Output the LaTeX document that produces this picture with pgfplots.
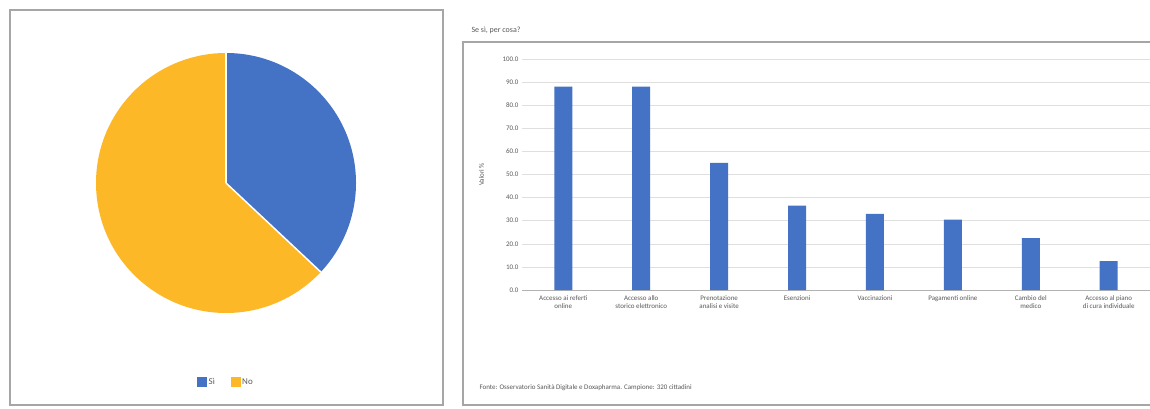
\documentclass[border=0pt]{standalone}
\usepackage{pgfplots}
\pgfplotsset{compat=1.18}
\usepackage{pgfplotstable}
\usepackage{fontspec}
\setmainfont{Carlito}
\definecolor{xblue}{HTML}{4472C4}
\definecolor{xgold}{HTML}{FDB827}
\definecolor{boxgray}{HTML}{A6A6A6}
\definecolor{txtgray}{HTML}{595959}

\pgfplotstableread{
cat val
0 88.0
1 88.0
2 55.0
3 36.5
4 33.0
5 30.5
6 22.5
7 12.5
}\bardata

\pgfplotstableread{
label val
Si 37
No 63
}\piedata

\begin{document}
\begin{tikzpicture}[x=1bp,y=1bp]
\useasboundingbox (0,0) rectangle (1150,408);
\fill[white] (0,0) rectangle (1150,408);
% panel frames
\draw[boxgray,line width=1.2bp] (10,3) rectangle (443,398);
\draw[boxgray,line width=1.2bp] (463,3) rectangle (1160,366);

% ---------- pie ----------
\pgfplotstablegetelem{0}{val}\of\piedata \edef\vsi{\pgfplotsretval}
\begin{axis}[
  at={(226bp,225bp)}, anchor=center,
  scale only axis, width=266bp, height=266bp,
  xmin=-1.023, xmax=1.023, ymin=-1.023, ymax=1.023,
  hide axis, clip=false,
  legend style={at={(0.5,-0.248)}, anchor=center, draw=none, fill=none,
    font=\fontsize{9}{10}\selectfont\color{txtgray}, legend columns=2,
    /tikz/every even column/.append style={column sep=14bp}},
  legend image code/.code={\fill[#1] (0bp,-4bp) rectangle (9bp,5bp);},
]
\pgfmathsetmacro{\endang}{90-3.6*\vsi}
\fill[xgold] (axis cs:0,0) -- ++(\endang:130bp) arc[start angle=\endang, end angle=-270, radius=130bp] -- cycle;
\fill[xblue] (axis cs:0,0) -- ++(90:130bp) arc[start angle=90, end angle=\endang, radius=130bp] -- cycle;
\draw[white,line width=1.5bp] (axis cs:0,0) -- ++(90:130bp);
\draw[white,line width=1.5bp] (axis cs:0,0) -- ++(\endang:130bp);
\addlegendimage{xblue, fill=xblue}
\addlegendentry{Sì}
\addlegendimage{xgold, fill=xgold}
\addlegendentry{No}
\end{axis}

% ---------- bar chart ----------
\node[anchor=west, font=\fontsize{8}{9}\selectfont, text=txtgray] at (468,378) {Se sì, per cosa?};
\node[anchor=west, font=\fontsize{7}{8}\selectfont, text=txtgray] at (476,20) {Fonte: Osservatorio Sanità Digitale e Doxapharma. Campione: 320 cittadini};
\begin{axis}[
  at={(522bp,118bp)}, anchor=south west,
  scale only axis, width=628bp, height=231bp,
  xmin=-0.53, xmax=7.53, ymin=0, ymax=100,
  ytick={0,10,...,100},
  yticklabel style={/pgf/number format/.cd, fixed, fixed zerofill, precision=1, assume math mode=true},
  ticklabel style={font=\fontsize{7}{8}\selectfont, text=txtgray},
  xtick={0,...,7},
  xticklabels={{Accesso ai referti\\online},{Accesso allo\\storico elettronico},{Prenotazione\\analisi e visite},{Esenzioni},{Vaccinazioni},{Pagamenti online},{Cambio del\\medico},{Accesso al piano\\di cura individuale}},
  xticklabel style={align=center, font=\fontsize{7}{8}\selectfont, text=txtgray, yshift=-2bp},
  ylabel={Valori \%},
  ylabel style={font=\fontsize{7}{8}\selectfont, text=txtgray, at={(axis description cs:-0.055,0.5)}},
  major tick length=0pt,
  axis line style={draw=none},
  ymajorgrids, grid style={gray!25, line width=0.6bp},
  extra y ticks={0}, extra y tick labels={}, extra y tick style={grid style={gray!60, line width=0.8bp}},
]
\addplot[ybar, bar width=18bp, fill=xblue, draw=none] table[x=cat, y=val] {\bardata};
\end{axis}
\end{tikzpicture}
\end{document}
